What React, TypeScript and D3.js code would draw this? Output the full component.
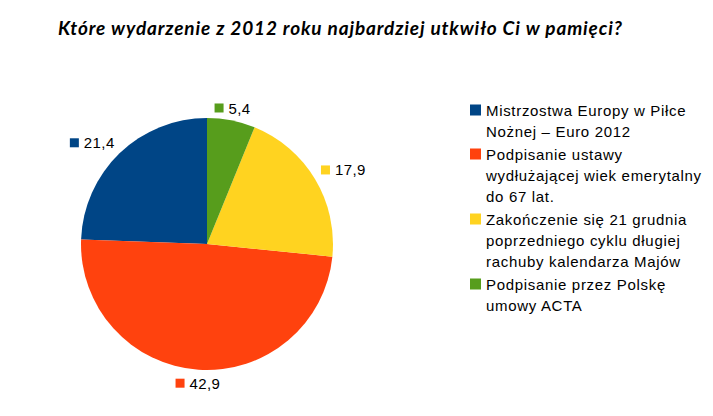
import { useRef, useEffect } from 'react';
import * as d3 from 'd3';

// Chart data (legend order)
const categories = [
  'Mistrzostwa Europy w Piłce Nożnej – Euro 2012',
  'Podpisanie ustawy wydłużającej wiek emerytalny do 67 lat.',
  'Zakończenie się 21 grudnia poprzedniego cyklu długiej rachuby kalendarza Majów',
  'Podpisanie przez Polskę umowy ACTA',
];
const values = [21.4, 42.9, 17.9, 5.4];
const legendLines = [
  ['Mistrzostwa Europy w Piłce', 'Nożnej – Euro 2012'],
  ['Podpisanie ustawy', 'wydłużającej wiek emerytalny', 'do 67 lat.'],
  ['Zakończenie się 21 grudnia', 'poprzedniego cyklu długiej', 'rachuby kalendarza Majów'],
  ['Podpisanie przez Polskę', 'umowy ACTA'],
];
const colors = ['#004586', '#ff420e', '#ffd320', '#579d1c'];
const title = 'Które wydarzenie z 2012 roku najbardziej utkwiło Ci w pamięci?';

const WIDTH = 713;
const HEIGHT = 416;

type Slice = { name: string; value: number; color: string };

export default function App() {
  const svgRef = useRef<SVGSVGElement>(null);

  useEffect(() => {
    if (!svgRef.current) return;
    const svg = d3.select(svgRef.current);
    svg.selectAll('*').remove();

    svg.append('rect').attr('width', WIDTH).attr('height', HEIGHT).attr('fill', '#ffffff');

    // Title
    svg.append('text')
      .attr('x', 58)
      .attr('y', 35)
      .attr('font-family', 'Lato, "Open Sans", sans-serif')
      .attr('font-style', 'italic')
      .attr('font-weight', 700)
      .attr('font-size', '19px')
      .attr('letter-spacing', '0.86px')
      .attr('fill', '#000')
      .text(title);

    const cx = 207;
    const cy = 244;
    const r = 126;

    const data: Slice[] = categories.map((c, i) => ({ name: c, value: values[i], color: colors[i] }));

    // Counter-clockwise from 12 o'clock, like the original
    const pie = d3.pie<Slice>()
      .sort(null)
      .value((d) => d.value)
      .startAngle(2 * Math.PI)
      .endAngle(0);
    const arcs = pie(data);

    const arc = d3.arc<d3.PieArcDatum<Slice>>()
      .innerRadius(0)
      .outerRadius(r);

    const g = svg.append('g').attr('transform', `translate(${cx},${cy})`);

    g.selectAll('path.slice')
      .data(arcs)
      .enter()
      .append('path')
      .attr('class', 'slice')
      .attr('d', arc)
      .attr('fill', (d) => d.data.color);

    // Value labels with small colour key
    const fmt = (v: number) => v.toFixed(1).replace('.', ',');
    const labelFont = 'Arial, "Liberation Sans", sans-serif';
    const sq = 9;
    const gap = 5;
    arcs.forEach((a) => {
      const mid = (a.startAngle + a.endAngle) / 2;
      const s = Math.sin(mid);
      const c = Math.cos(mid);
      const rr = r + 7;
      const px = s * rr;
      const py = -c * rr;
      const txt = fmt(a.data.value);
      const tmp = g.append('text')
        .attr('font-family', labelFont)
        .attr('font-size', '15px')
        .attr('letter-spacing', '0.4px')
        .text(txt);
      const tw = (tmp.node() as SVGTextElement).getComputedTextLength();
      tmp.remove();
      const bw = sq + gap + tw;
      const bh = 12;
      let x0 = px - bw / 2;
      if (s > 0.25) x0 = px;
      else if (s < -0.25) x0 = px - bw;
      let y0 = py - bh / 2;
      if (c > 0.25) y0 = py - bh;
      else if (c < -0.25) y0 = py;
      g.append('rect')
        .attr('x', x0)
        .attr('y', y0 + 2)
        .attr('width', sq)
        .attr('height', sq)
        .attr('fill', a.data.color);
      g.append('text')
        .attr('x', x0 + sq + gap)
        .attr('y', y0 + 12)
        .attr('font-family', labelFont)
        .attr('font-size', '15px')
        .attr('letter-spacing', '0.4px')
        .attr('fill', '#000')
        .text(txt);
    });

    // Legend
    const lx = 470;
    let ly = 115.5;
    const lineH = 21;
    const itemGap = 2;
    legendLines.forEach((lines, i) => {
      svg.append('rect')
        .attr('x', lx)
        .attr('y', ly - 11)
        .attr('width', 11)
        .attr('height', 11)
        .attr('fill', colors[i]);
      lines.forEach((ln, j) => {
        svg.append('text')
          .attr('x', lx + 16)
          .attr('y', ly + j * lineH)
          .attr('font-family', labelFont)
          .attr('font-size', '15px')
          .attr('letter-spacing', '0.68px')
          .attr('fill', '#000')
          .text(ln);
      });
      ly += lines.length * lineH + itemGap;
    });
  }, []);

  return (
    <svg
      ref={svgRef}
      width={WIDTH}
      height={HEIGHT}
      style={{ position: 'absolute', left: 0, top: 0, display: 'block' }}
    />
  );
}
